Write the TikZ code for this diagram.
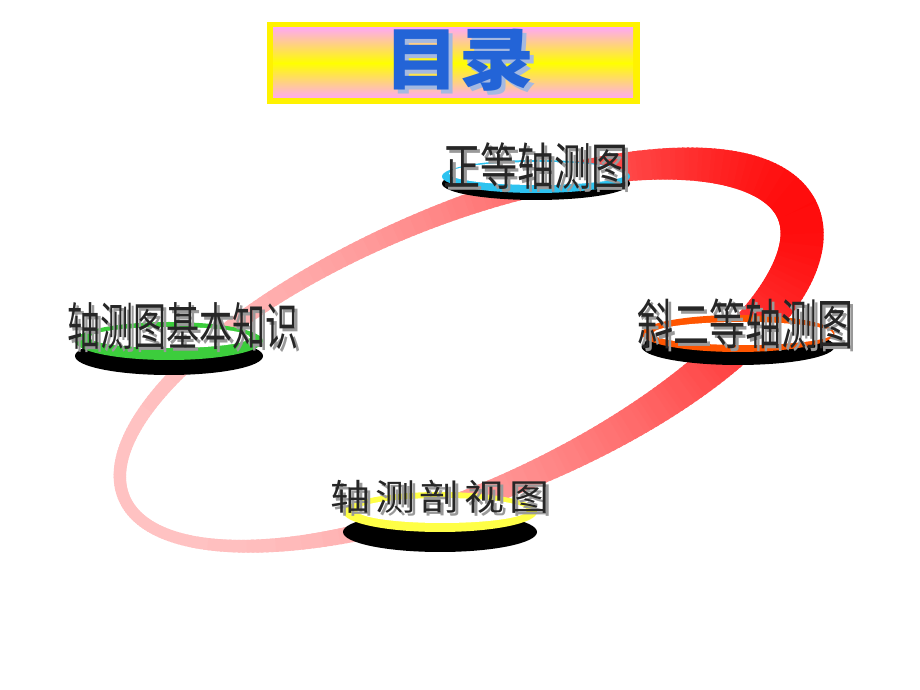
\documentclass[tikz,border=0pt]{standalone}
\usepackage{fontspec}
\newfontfamily\cjk{Noto Sans CJK SC}
\newfontfamily\cjkwide{Noto Sans CJK SC}[LetterSpace=12]
\usepackage{tikz}
\usetikzlibrary{shapes.geometric}
\definecolor{titlepink}{RGB}{255,170,240}
\definecolor{titleblue}{RGB}{35,100,215}
\definecolor{titleecho}{RGB}{165,185,225}
\definecolor{zdcyan}{RGB}{45,195,240}
\definecolor{jcgreen}{RGB}{60,205,60}
\definecolor{xeorange}{RGB}{255,85,0}
\definecolor{psyellow}{RGB}{255,255,70}

\begin{document}
\begin{tikzpicture}[x=1pt, y=1pt,
    disc/.style={ellipse, draw=none, inner sep=0pt, minimum width=188pt, minimum height=33pt},
    face/.style={disc, fill=white},
    word/.style={inner sep=0pt, text=black!85, font=\cjk\fontsize{#1}{#1}\selectfont},
    echo/.style={word=#1, text=black!40}]
    \useasboundingbox (0,0) rectangle (920,690);

    % title box
    \fill[yellow] (267,586) rectangle (640,668);
    \shade[top color=titlepink, bottom color=titlepink, middle color=yellow] (273,592) rectangle (633,662);
    \node[text=titleecho, font=\cjk\bfseries\fontsize{68}{68}\selectfont] (titleecho) at (463,626) {\scalebox{1.1}[1]{目录}};
    \node[text=titleblue, font=\cjk\bfseries\fontsize{68}{68}\selectfont] (title) at (459,630) {\scalebox{1.1}[1]{目录}};

    % ring
    \begin{scope}[shift={(461,335)}, rotate=23]
        \foreach \t in {0,1,...,359} {
            \pgfmathsetmacro\w{24.5+15.1*cos(\t)-2.8*sin(\t)+2.5*cos(2*\t)-2.5*sin(2*\t)}
            \pgfmathtruncatemacro\p{52+36*cos(\t)+8*cos(2*\t)}
            \draw[line width=\w pt, red!\p!white] (\t:366 and 138) -- (\t+1.6:366 and 138);
        }
    \end{scope}

    % discs
    \node[disc, fill=black] (zdshadow) at (536,506.5) {};
    \node[disc, fill=zdcyan] (zdrim) at (536,513.5) {};
    \node[face, minimum width=178pt, minimum height=23pt] (zdface) at (538,516.5) {};

    \node[disc, fill=black, minimum height=38pt] (jcshadow) at (169,334) {};
    \node[disc, fill=jcgreen, minimum height=38pt] (jcrim) at (169,349) {};
    \node[face, minimum width=160pt, minimum height=21pt] (jcface) at (170,352.5) {};

    \node[disc, fill=black, minimum width=193pt, minimum height=37pt] (xeshadow) at (738,343.5) {};
    \node[disc, fill=xeorange, minimum width=193pt, minimum height=37pt] (xerim) at (738,356.5) {};
    \node[face, minimum width=180pt, minimum height=23pt] (xeface) at (743,356.5) {};

    \node[disc, fill=black, minimum width=194pt, minimum height=40pt] (psshadow) at (440,158) {};
    \node[disc, fill=psyellow, minimum width=194pt, minimum height=40pt] (psrim) at (440,178) {};
    \node[face, minimum width=170pt, minimum height=25pt] (psface) at (442,179.5) {};

    % labels
    \node[echo=37] (zdecho) at (539,521) {\scalebox{1}[1.37]{正等轴测图}};
    \node[word=37] (zdtext) at (536,524) {\scalebox{1}[1.37]{正等轴测图}};

    \node[echo=33] (jcecho) at (186,361) {\scalebox{1}[1.55]{轴测图基本知识}};
    \node[word=33] (jctext) at (183,364) {\scalebox{1}[1.55]{轴测图基本知识}};

    \node[echo=36] (xeecho) at (748,363) {\scalebox{1}[1.5]{斜二等轴测图}};
    \node[word=36] (xetext) at (745,366) {\scalebox{1}[1.5]{斜二等轴测图}};

    \node[echo=40, font=\cjkwide\fontsize{40}{40}\selectfont] (psecho) at (443,190) {\scalebox{1}[0.9]{轴测剖视图}};
    \node[word=40, font=\cjkwide\fontsize{40}{40}\selectfont] (pstext) at (440,193) {\scalebox{1}[0.9]{轴测剖视图}};
\end{tikzpicture}
\end{document}
